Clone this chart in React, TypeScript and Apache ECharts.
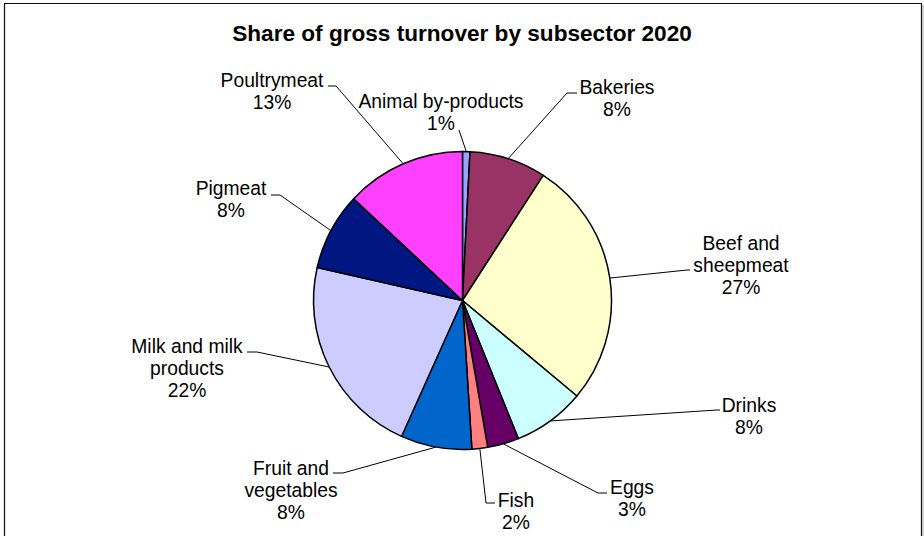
import React, { useEffect, useRef } from 'react';
import * as echarts from 'echarts';

const categories = [
  'Animal by-products',
  'Bakeries',
  'Beef and sheepmeat',
  'Drinks',
  'Eggs',
  'Fish',
  'Fruit and vegetables',
  'Milk and milk products',
  'Pigmeat',
  'Poultrymeat',
];
const labelNames = [
  'Animal by-products',
  'Bakeries',
  'Beef and\nsheepmeat',
  'Drinks',
  'Eggs',
  'Fish',
  'Fruit and\nvegetables',
  'Milk and milk\nproducts',
  'Pigmeat',
  'Poultrymeat',
];
const values = [0.8, 8.3, 26.9, 7.8, 3.4, 1.7, 7.7, 21.8, 8.4, 13.0];
const colors = ['#99A4FF', '#993366', '#FFFFCC', '#CCFFFF', '#660066', '#FF8080', '#0066CC', '#CCCCFF', '#001680', '#FF40FF'];

// label layout (pixel positions of label blocks and leader-line ends)
const labelCenters = [[441, 112], [617, 98], [741, 265], [749, 416], [632, 498], [516, 511], [291, 490], [187, 368], [231, 199], [272, 91]];
const lineEnds = [[459, 130], [577, 93], [690, 270], [720, 410], [607, 493], [495, 503], [333, 473], [247, 352], [271, 195], [328, 86]];
const elbowDx = [0, -10, -3, -3, -9, -9, 10, 10, 9, 8];

const CX = 462.5;
const CY = 300.5;
const R = 149;
const FONT = '"Liberation Sans", Arial, Helvetica, sans-serif';

export default function App() {
  const ref = useRef<HTMLDivElement>(null);
  useEffect(() => {
    if (!ref.current) return;
    const chart = echarts.init(ref.current, null, { renderer: 'svg' });
    const total = values.reduce((a, b) => a + b, 0);
    const cum: number[] = [];
    values.reduce((acc, v, i) => {
      cum[i] = acc;
      return acc + v;
    }, 0);
    chart.setOption({
      animation: false,
      backgroundColor: '#ffffff',
      title: {
        text: 'Share of gross turnover by subsector 2020',
        left: 'center',
        top: 17,
        textStyle: { fontFamily: FONT, fontSize: 22.6, fontWeight: 'bold', color: '#000' },
      },
      graphic: [
        {
          type: 'rect',
          shape: { x: 4.5, y: 3.5, width: 917, height: 560 },
          style: { fill: 'none', stroke: '#111', lineWidth: 1.2 },
          silent: true,
        },
        {
          type: 'line',
          shape: { x1: 923, y1: 5, x2: 923, y2: 540 },
          style: { stroke: '#aaa', lineWidth: 1 },
          silent: true,
        },
      ],
      series: [
        {
          type: 'pie',
          center: [CX, CY],
          radius: R,
          startAngle: 90,
          clockwise: true,
          avoidLabelOverlap: false,
          percentPrecision: 0,
          emphasis: { disabled: true },
          color: colors,
          itemStyle: { borderColor: '#000', borderWidth: 1.5 },
          label: {
            show: true,
            position: 'outside',
            color: '#000',
            fontFamily: FONT,
            fontSize: 19.3,
            lineHeight: 22,
            formatter: (p: any) => labelNames[p.dataIndex] + '\n' + p.percent + '%',
          },
          labelLine: { show: true, length: 10, length2: 10, lineStyle: { color: '#000', width: 1 } },
          labelLayout: (params: any) => {
            const i = params.dataIndex;
            let p0: number[];
            if (params.labelLinePoints && params.labelLinePoints[0]) {
              p0 = [params.labelLinePoints[0][0], params.labelLinePoints[0][1]];
            } else {
              const a = (Math.PI / 2) - ((cum[i] + values[i] / 2) / total) * Math.PI * 2;
              p0 = [CX + R * Math.cos(a), CY - R * Math.sin(a)];
            }
            const [ex, ey] = lineEnds[i];
            return {
              x: labelCenters[i][0],
              y: labelCenters[i][1],
              align: 'center',
              verticalAlign: 'middle',
              labelLinePoints: [p0, [ex + elbowDx[i], ey], [ex, ey]],
            };
          },
          data: categories.map((name, i) => ({ name, value: values[i] })),
        },
      ],
    });
    return () => chart.dispose();
  }, []);
  return <div ref={ref} style={{ position: 'absolute', left: 0, top: 0, width: 924, height: 536 }} />;
}
